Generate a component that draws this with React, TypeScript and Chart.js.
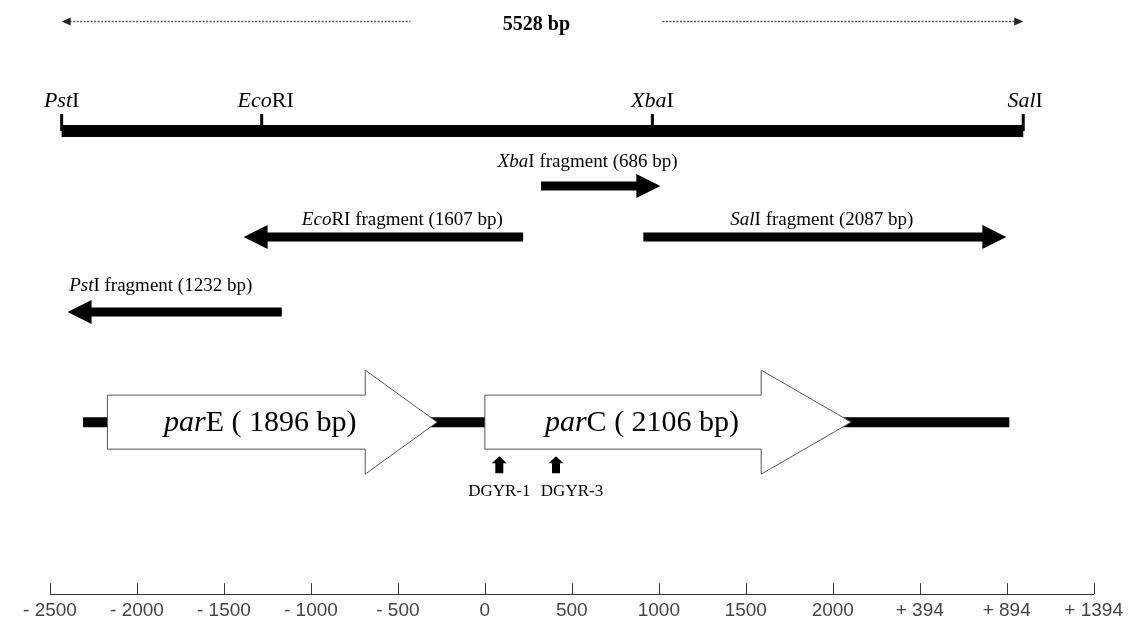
import { useEffect, useRef } from 'react';
import { Chart, registerables } from 'chart.js';

Chart.register(...registerables);

// ---- coordinate axis (bp, parC start = 0) ----
const AXIS_MIN = -2500;
const AXIS_MAX = 3500;
const AXIS_STEP = 500;
const AXIS_LABELS = ['- 2500', '- 2000', '- 1500', '- 1000', '- 500', '0', '500', '1000', '1500', '2000', '+ 394', '+ 894', '+ 1394'];

// ---- cloned insert and its restriction sites ----
const INSERT_BP = 5528;
const SITE_NAMES = ['PstI', 'EcoRI', 'XbaI', 'SalI'];
const SITE_POSITIONS = [-2433, -1283, 963, 3095];

// ---- restriction fragments (tail position, size, strand) ----
const FRAGMENT_ENZYMES = ['XbaI', 'EcoRI', 'SalI', 'PstI'];
const FRAGMENT_SIZES = [686, 1607, 2087, 1232];
const FRAGMENT_TAILS = [323, 220, 911, -1167];
const FRAGMENT_STRANDS = [1, -1, 1, -1];

// ---- genes ----
const GENE_NAMES = ['parE', 'parC'];
const GENE_STARTS = [-2170, 0];
const GENE_LENGTHS = [1896, 2106];
const LOCUS_SPAN = [-2310, 3015];

// ---- primers ----
const PRIMER_NAMES = ['DGYR-1', 'DGYR-3'];
const PRIMER_POSITIONS = [83, 409];

// ---- layout (vertical rows on a hidden 0..594 scale, pixel nudges, sizes) ----
const Y_MAX = 594;
const ROWS = {
  insert: 21,
  insertText: 25,
  siteText: 101,
  siteTick: 114,
  bar: 131,
  gene: 422,
  primerTop: 456,
  primerBase: 473,
  primerText: 491,
};
const FRAGMENT_ROWS = [186, 237, 237, 312];
const FRAGMENT_TEXT_ROWS = [162, 220, 220, 286];
const FRAGMENT_TEXT_NUDGE = [-13, 19, -3, -14];
const SITE_TEXT_NUDGE = [0, 4, 0, 2];
const GENE_TEXT_NUDGE = [-12, -26];
const GENE_HEAD_PX = [72, 90];
const PRIMER_TEXT_NUDGE = [0, 16];
const INSERT_TEXT_NUDGE = -6;
const INSERT_GAP = 126;

const SERIF = '"Liberation Serif", "Times New Roman", serif';
const SANS = '"Liberation Sans", Arial, sans-serif';

type Part = [string, boolean];

function enzymeParts(name: string): Part[] {
  return [[name.slice(0, 3), true], [name.slice(3), false]];
}

function drawRich(ctx: CanvasRenderingContext2D, parts: Part[], cx: number, cy: number, size: number, weight = 'normal') {
  ctx.save();
  ctx.fillStyle = '#000';
  ctx.textBaseline = 'middle';
  ctx.textAlign = 'left';
  const fonts = parts.map((p) => `${p[1] ? 'italic ' : ''}${weight} ${size}px ${SERIF}`);
  const widths = parts.map((p, i) => {
    ctx.font = fonts[i];
    return ctx.measureText(p[0]).width;
  });
  let xx = cx - widths.reduce((a, b) => a + b, 0) / 2;
  parts.forEach((p, i) => {
    ctx.font = fonts[i];
    ctx.fillText(p[0], xx, cy);
    xx += widths[i];
  });
  ctx.restore();
}

function blockArrowPath(ctx: CanvasRenderingContext2D, x0: number, x1: number, yc: number, shaft: number, head: number, headLen: number) {
  const dir = Math.sign(x1 - x0) || 1;
  const xb = x1 - dir * headLen;
  ctx.beginPath();
  ctx.moveTo(x0, yc - shaft / 2);
  ctx.lineTo(xb, yc - shaft / 2);
  ctx.lineTo(xb, yc - head / 2);
  ctx.lineTo(x1, yc);
  ctx.lineTo(xb, yc + head / 2);
  ctx.lineTo(xb, yc + shaft / 2);
  ctx.lineTo(x0, yc + shaft / 2);
  ctx.closePath();
}

const geneMapPlugin = {
  id: 'geneMap',
  afterDatasetsDraw(chart: any) {
    const ctx: CanvasRenderingContext2D = chart.ctx;
    const xs = chart.scales.x;
    const ys = chart.scales.y;
    const X = (v: number) => xs.getPixelForValue(v);
    const Y = (v: number) => ys.getPixelForValue(v);
    ctx.save();

    // total insert length, dotted double arrow
    const ix0 = X(SITE_POSITIONS[0]);
    const ix1 = X(SITE_POSITIONS[0] + INSERT_BP);
    const mid = (ix0 + ix1) / 2 + INSERT_TEXT_NUDGE;
    const yi = Math.round(Y(ROWS.insert)) + 0.5;
    ctx.strokeStyle = '#555';
    ctx.lineWidth = 1.5;
    ctx.setLineDash([2, 1.5]);
    ctx.beginPath();
    ctx.moveTo(ix0 + 8, yi);
    ctx.lineTo(mid - INSERT_GAP, yi);
    ctx.moveTo(mid + INSERT_GAP, yi);
    ctx.lineTo(ix1 - 8, yi);
    ctx.stroke();
    ctx.setLineDash([]);
    ctx.fillStyle = '#222';
    ctx.beginPath();
    ctx.moveTo(ix0, yi);
    ctx.lineTo(ix0 + 9, yi - 4);
    ctx.lineTo(ix0 + 9, yi + 4);
    ctx.closePath();
    ctx.moveTo(ix1, yi);
    ctx.lineTo(ix1 - 9, yi - 4);
    ctx.lineTo(ix1 - 9, yi + 4);
    ctx.closePath();
    ctx.fill();
    drawRich(ctx, [[`${INSERT_BP} bp`, false]], mid, Y(ROWS.insertText), 20, 'bold');

    // restriction sites
    ctx.fillStyle = '#000';
    SITE_POSITIONS.forEach((p, i) => {
      const sx = X(p);
      ctx.fillRect(sx - 1.5, Y(ROWS.siteTick), 3, Y(ROWS.bar) - Y(ROWS.siteTick));
      drawRich(ctx, enzymeParts(SITE_NAMES[i]), sx + SITE_TEXT_NUDGE[i], Y(ROWS.siteText), 22);
    });

    // restriction fragments
    FRAGMENT_ENZYMES.forEach((enz, i) => {
      const tail = FRAGMENT_TAILS[i];
      const tip = tail + FRAGMENT_STRANDS[i] * FRAGMENT_SIZES[i];
      const xa = X(tail);
      const xb = X(tip);
      ctx.fillStyle = '#000';
      blockArrowPath(ctx, xa, xb, Y(FRAGMENT_ROWS[i]), 9, 24, 24);
      ctx.fill();
      const ep = enzymeParts(enz);
      const parts: Part[] = [ep[0], [`${ep[1][0]} fragment (${FRAGMENT_SIZES[i]} bp)`, false]];
      drawRich(ctx, parts, (xa + xb) / 2 + FRAGMENT_TEXT_NUDGE[i], Y(FRAGMENT_TEXT_ROWS[i]), 19);
    });

    // genes
    GENE_NAMES.forEach((g, i) => {
      const xa = X(GENE_STARTS[i]);
      const xb = X(GENE_STARTS[i] + GENE_LENGTHS[i]);
      const yc = Y(ROWS.gene);
      blockArrowPath(ctx, xa, xb, yc, 54, 104, GENE_HEAD_PX[i]);
      ctx.fillStyle = '#fff';
      ctx.fill();
      ctx.strokeStyle = '#555';
      ctx.lineWidth = 1;
      ctx.stroke();
      drawRich(ctx, [[g.slice(0, 3), true], [`${g.slice(3)} ( ${GENE_LENGTHS[i]} bp)`, false]], (xa + xb) / 2 + GENE_TEXT_NUDGE[i], yc + 1, 30);
    });

    // primers
    PRIMER_NAMES.forEach((name, i) => {
      const px = X(PRIMER_POSITIONS[i]);
      const top = Y(ROWS.primerTop);
      const base = Y(ROWS.primerBase);
      const headH = 7;
      ctx.fillStyle = '#000';
      ctx.beginPath();
      ctx.moveTo(px, top);
      ctx.lineTo(px + 7.5, top + headH);
      ctx.lineTo(px + 4, top + headH);
      ctx.lineTo(px + 4, base);
      ctx.lineTo(px - 4, base);
      ctx.lineTo(px - 4, top + headH);
      ctx.lineTo(px - 7.5, top + headH);
      ctx.closePath();
      ctx.fill();
      drawRich(ctx, [[name, false]], px + PRIMER_TEXT_NUDGE[i], Y(ROWS.primerText), 17);
    });

    // upward tick marks on the coordinate axis
    ctx.strokeStyle = '#333';
    ctx.lineWidth = 1;
    ctx.beginPath();
    xs.ticks.forEach((t: any) => {
      const tx = Math.round(X(t.value)) + 0.5;
      ctx.moveTo(tx, xs.top);
      ctx.lineTo(tx, xs.top - 11);
    });
    ctx.stroke();

    ctx.restore();
  },
};

export default function App() {
  const canvasRef = useRef<HTMLCanvasElement | null>(null);

  useEffect(() => {
    const canvas = canvasRef.current;
    if (!canvas) return;
    const chart = new Chart(canvas, {
      type: 'line',
      data: {
        datasets: [
          {
            label: 'insert',
            data: [
              { x: SITE_POSITIONS[0], y: ROWS.bar },
              { x: SITE_POSITIONS[0] + INSERT_BP, y: ROWS.bar },
            ],
            borderColor: '#000',
            borderWidth: 12,
            borderCapStyle: 'butt',
            pointRadius: 0,
          },
          {
            label: 'locus',
            data: [
              { x: LOCUS_SPAN[0], y: ROWS.gene },
              { x: LOCUS_SPAN[1], y: ROWS.gene },
            ],
            borderColor: '#000',
            borderWidth: 10,
            borderCapStyle: 'butt',
            pointRadius: 0,
          },
        ],
      },
      options: {
        animation: false,
        responsive: false,
        events: [],
        layout: { padding: { left: 50, right: 30, top: 0, bottom: 0 } },
        plugins: { legend: { display: false }, tooltip: { enabled: false } },
        scales: {
          x: {
            type: 'linear',
            position: 'bottom',
            min: AXIS_MIN,
            max: AXIS_MAX,
            grid: { display: true, drawOnChartArea: false, drawTicks: false },
            border: { display: true, color: '#333', width: 1 },
            ticks: {
              stepSize: AXIS_STEP,
              autoSkip: false,
              maxRotation: 0,
              padding: 5,
              color: '#444',
              font: { family: SANS, size: 19 },
              callback: (_v: any, i: number) => AXIS_LABELS[i],
            },
          },
          y: {
            type: 'linear',
            display: false,
            min: 0,
            max: Y_MAX,
            reverse: true,
          },
        },
      },
      plugins: [geneMapPlugin],
    } as any);
    return () => chart.destroy();
  }, []);

  return (
    <div style={{ position: 'fixed', left: 0, top: 0, width: 1128, height: 627, background: '#fff' }}>
      <canvas ref={canvasRef} width={1128} height={627} style={{ display: 'block' }} />
    </div>
  );
}
